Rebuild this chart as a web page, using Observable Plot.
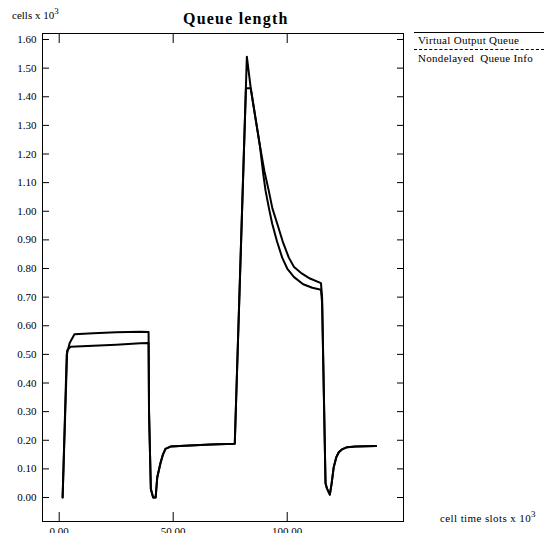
<!DOCTYPE html>
<html><head><meta charset="utf-8">
<script src="https://cdn.jsdelivr.net/npm/d3@7"></script>
<script src="https://cdn.jsdelivr.net/npm/@observablehq/plot@0.6"></script>
<style>
html,body{margin:0;padding:0;overflow:hidden;background:#fff;}
#wrap{position:relative;width:544px;height:533px;overflow:hidden;font-family:"Liberation Serif","Times New Roman",serif;color:#000;}
#chart{position:absolute;left:0;top:0;}
.lbl{position:absolute;white-space:pre;line-height:1;}
.sup{font-size:9px;position:relative;top:-5px;}
</style></head><body>
<div id="wrap">
<div id="chart"></div>
<div class="lbl" style="left:12px;top:10px;font-size:11px;">cells x 10<span class="sup">3</span></div>
<div class="lbl" style="left:183px;top:11px;font-size:16px;font-weight:bold;letter-spacing:1.2px;">Queue length</div>
<div class="lbl" style="left:440px;top:513px;font-size:11px;letter-spacing:0.4px;">cell time slots x 10<span class="sup">3</span></div>
<div style="position:absolute;left:414px;top:32px;width:130px;border-top:1px solid #000;"></div>
<div class="lbl" style="left:418px;top:35px;font-size:11px;letter-spacing:0.3px;">Virtual Output Queue</div>
<div style="position:absolute;left:414px;top:49px;width:130px;border-top:1px dashed #000;"></div>
<div class="lbl" style="left:418px;top:53px;font-size:11px;letter-spacing:0.3px;">Nondelayed  Queue Info</div>
</div>
<script>
// time in thousands of cell time slots, queue length in thousands of cells
const timeVOQ = [1.5, 3.3, 4.6, 6.7, 15, 25, 35.6, 39.2, 39.4, 40.2, 41.2, 42.3, 43.0, 44.4, 45.5, 46.6, 48.8, 55, 66.4, 77.0, 82.3, 84.0, 86, 88, 90, 91.9, 93.5, 95.6, 98, 100.7, 103, 106, 110, 114.8, 115.3, 116.8, 117.5, 118.7, 119.5, 120.4, 121.5, 122.6, 124, 126.3, 130, 139];
const lenVOQ  = [0, 0.50, 0.54, 0.57, 0.574, 0.577, 0.579, 0.578, 0.30, 0.03, 0, 0, 0.07, 0.12, 0.15, 0.17, 0.178, 0.181, 0.185, 0.188, 1.54, 1.43, 1.33, 1.23, 1.14, 1.072, 1.01, 0.957, 0.895, 0.838, 0.805, 0.785, 0.765, 0.749, 0.70, 0.05, 0.03, 0.01, 0.05, 0.106, 0.14, 0.158, 0.168, 0.176, 0.178, 0.18];
const timeNQI = [1.5, 3.5, 5.0, 15, 25, 35.6, 39.2, 39.4, 40.2, 41.2, 42.3, 43.0, 44.4, 45.5, 46.6, 48.8, 55, 66.4, 77.0, 81.9, 84.0, 86, 88, 89.5, 90.5, 92, 93.4, 95.5, 97.8, 100, 103, 107, 111, 114.8, 115.3, 116.8, 117.5, 118.7, 119.5, 120.4, 121.5, 122.6, 124, 126.3, 130, 139];
const lenNQI  = [0, 0.514, 0.527, 0.530, 0.534, 0.539, 0.540, 0.30, 0.03, 0, 0, 0.07, 0.12, 0.15, 0.17, 0.178, 0.181, 0.185, 0.188, 1.43, 1.43, 1.33, 1.23, 1.13, 1.072, 1.01, 0.957, 0.895, 0.838, 0.80, 0.77, 0.745, 0.733, 0.726, 0.68, 0.05, 0.03, 0.01, 0.05, 0.106, 0.14, 0.158, 0.168, 0.176, 0.178, 0.18];
const yTicks = [0, 0.1, 0.2, 0.3, 0.4, 0.5, 0.6, 0.7, 0.8, 0.9, 1.0, 1.1, 1.2, 1.3, 1.4, 1.5, 1.6];
const xTicks = [0, 50, 100];

const voq = timeVOQ.map((t, i) => ({t, q: lenVOQ[i]}));
const nqi = timeNQI.map((t, i) => ({t, q: lenNQI[i]}));
const blank = () => "";

const chart = Plot.plot({
  width: 544, height: 545,
  marginLeft: 42, marginRight: 141, marginTop: 33, marginBottom: 24,
  x: {domain: [-7.32, 151.0]},
  y: {domain: [-0.0838, 1.621]},
  style: {fontFamily: "'Liberation Serif','Times New Roman',serif", fontSize: "11px", color: "#000", background: "#fff"},
  marks: [
    Plot.frame({stroke: "#000", strokeWidth: 1}),
    Plot.axisY(yTicks, {anchor: "left", tickSize: 0, tickPadding: 6, tickFormat: d => d.toFixed(2), label: null}),
    Plot.axisY(yTicks, {anchor: "left", tickSize: -7, tickFormat: blank, label: null}),
    Plot.axisY(yTicks, {anchor: "right", tickSize: -7, tickFormat: blank, label: null}),
    Plot.axisX(xTicks, {anchor: "bottom", tickSize: 0, tickPadding: 6, tickFormat: d => d.toFixed(2), label: null}),
    Plot.axisX(xTicks, {anchor: "bottom", tickSize: -9, tickFormat: blank, label: null}),
    Plot.axisX(xTicks, {anchor: "top", tickSize: -9, tickFormat: blank, label: null}),
    Plot.line(voq, {x: "t", y: "q", stroke: "#000", strokeWidth: 2}),
    Plot.line(nqi, {x: "t", y: "q", stroke: "#000", strokeWidth: 2})
  ]
});
document.getElementById("chart").appendChild(chart);
</script>
</body></html>
